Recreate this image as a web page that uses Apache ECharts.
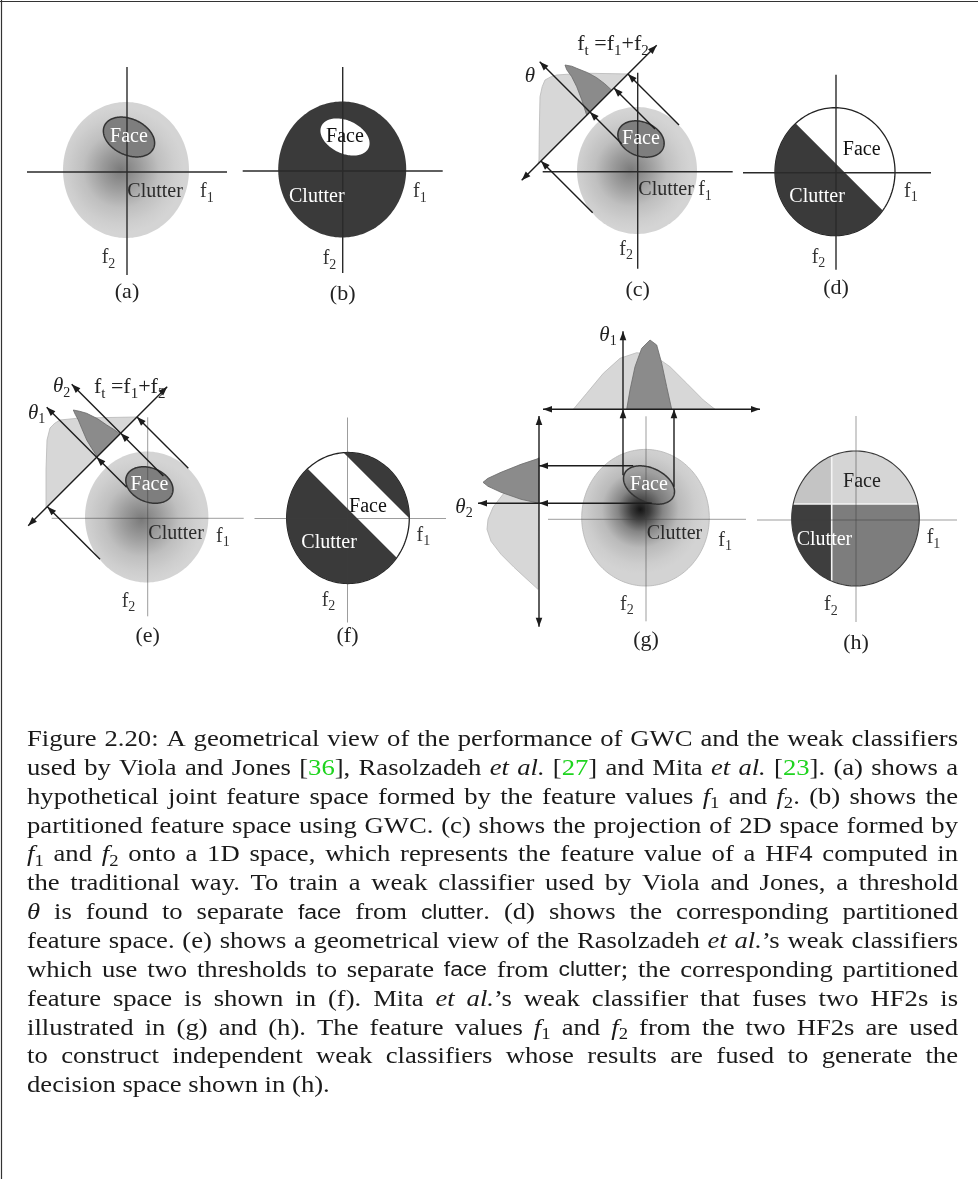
<!DOCTYPE html>
<html>
<head>
<meta charset="utf-8">
<title>Figure 2.20</title>
<script src="https://cdn.jsdelivr.net/npm/echarts@6.0.0/dist/echarts.min.js"></script>
<style>
html,body{margin:0;padding:0;background:#ffffff;}
#chart{width:978px;height:1179px;}
</style>
</head>
<body>
<div id="chart"></div>
<script>
// ======================= DATA (feature-space units; origin = axis crossing, y up) =======================
const panelNames = ['(a)', '(b)', '(c)', '(d)', '(e)', '(f)', '(g)', '(h)'];

// clutter distribution ellipses [cx, cy, rx, ry]
const clutterA = [-1, 2, 63, 68];
const clutterB = [-0.5, 1.5, 64, 68];
const clutterC = [-0.7, 1.2, 60, 63.5];
const clutterD = [-1, 1, 60, 64];
const clutterE = [-1, 1.3, 61.7, 65.5];
const clutterF = [0.5, 0.5, 61.3, 65.5];
const clutterG = [-0.5, 1.6, 63.8, 68.3];
const clutterH = [-0.5, 1.5, 63.8, 67.5];

// face distribution ellipses [cx, cy, rx, ry, tiltDeg]
const faceA = [2, 35, 27, 18, -25];
const faceB = [2.3, 34, 26, 16.5, -25];
const faceC = [3.3, 32.7, 24, 17, -22];
const faceE = [1.7, 33.3, 24.5, 17, -22];
const faceG = [3, 34.3, 27, 17, -25];

// decision thresholds
const thresholdD = 9;            // f1 + f2 threshold in (d)
const thresholdsF = [10, 62];     // two thresholds on f1 + f2 in (f)
const splitH = [-24.3, 16];       // f1 and f2 thresholds in (h)

// axis extents [[xmin, xmax], [ymin, ymax]]
const axesA = [[-100, 100], [-103, 105]];
const axesB = [[-100, 100], [-102, 104]];
const axesC = [[-95, 95], [-97, 99]];
const axesD = [[-93, 95], [-97, 98]];
const axesE = [[-96, 96], [-98, 101]];
const axesF = [[-93, 98.5], [-104, 101]];
const axesG = [[-98, 100], [-102, 103]];
const axesH = [[-99, 101], [-102, 104]];

// (c) projection onto f_t = f1 + f2
const ftAxisC = [[-116, -8.5], [19, 126.5]];
const thetaLineC = [[-16, 28], [-47.75, 59.75], [-98, 110]];
const projectionsC = [[[41.3, 46.7], [-9.75, 97.75]], [[17.3, 42.7], [-23.75, 83.75]], [[-45, -41], [-96.75, 10.75]]];
const clutterProjC = [[-99.7, 8], [-98.7, 11.7], [-98.4, 41.7], [-97.7, 75], [-95.5, 85], [-92.7, 91.7], [-87, 94.8], [-81, 96.7], [-65, 97.8], [-47.7, 98.4], [-9.75, 97.75]];
const faceProjC = [[-72.7, 106.7], [-66, 105.5], [-61, 103.4], [-50, 99], [-41, 94], [-33, 88], [-26, 81.5], [-51, 56.5], [-56, 72], [-61, 85], [-66, 95], [-71, 102]];

// (e) projection onto f_t with two thresholds
const ftAxisE = [[-119.5, -7.5], [19.5, 131.5]];
const theta1LineE = [[-21, 31], [-51, 61], [-101, 111]];
const theta2LineE = [[15.7, 42.3], [-27, 85], [-76, 134]];
const projectionsE = [[[40.6, 50], [-10.7, 101.3]], [[-47.7, -41], [-100.35, 11.65]]];
const clutterProjE = [[-101.7, 10.3], [-101.7, 48.3], [-100.7, 78.3], [-97.7, 90.3], [-93, 95], [-87.7, 98.3], [-67.7, 100.3], [-10.7, 101.3]];
const faceProjE = [[-74.4, 108.3], [-68, 107], [-61, 105], [-50, 99.5], [-41, 93.3], [-34, 89], [-27.7, 84.3], [-50.4, 61.6], [-56, 70], [-61, 78.3], [-66, 90], [-69.4, 98.3], [-72.5, 104]];

// (g) two independent projections on f1 and f2
const f1AxisG = [[-103, 110], [114, 110]];
const f2AxisG = [[-107, -107.4], [-107, 103.3]];
const theta1LineG = [[-23, 44], [-23, 110], [-23, 188]];
const theta2LineG = [[5.7, 16], [-107, 16], [-168, 16]];
const projectionsG = [[[28, 32.6], [28, 110]], [[-12.7, 53.6], [-107, 53.6]]];
const clutterOnF1G = [[-72.7, 110], [-59.3, 126], [-42.7, 146], [-26, 161], [-9.3, 166.6], [7.3, 164.3], [24, 152.6], [40.7, 136], [57.3, 119.3], [69, 110]];
const faceOnF1G = [[-19.3, 110], [-16, 129.3], [-11, 152.6], [-4.3, 171], [4, 179.3], [10.7, 174.3], [15.7, 156], [20.7, 132.6], [25.7, 110]];
const clutterOnF2G = [[-107, 62], [-117, 50], [-130, 38], [-143, 25], [-153, 12], [-158, 0], [-159, -10], [-155, -22], [-145, -35], [-132, -48], [-119, -60], [-108, -70]];
const faceOnF2G = [[-107, 61], [-125, 55], [-145, 47], [-158, 41], [-163, 37], [-158, 33], [-145, 27], [-125, 20], [-107, 16]];

// caption (markup: {i|italic} {g|green ref} {s|sans} {sub|subscript})
const captionLines = [
  'Figure 2.20: A geometrical view of the performance of GWC and the weak classifiers',
  'used by Viola and Jones [{g|36}], Rasolzadeh {i|et al.} [{g|27}] and Mita {i|et al.} [{g|23}]. (a) shows a',
  'hypothetical joint feature space formed by the feature values {i|f}{sub|1} and {i|f}{sub|2}. (b) shows the',
  'partitioned feature space using GWC. (c) shows the projection of 2D space formed by',
  '{i|f}{sub|1} and {i|f}{sub|2} onto a 1D space, which represents the feature value of a HF4 computed in',
  'the traditional way. To train a weak classifier used by Viola and Jones, a threshold',
  '{i|\u03b8} is found to separate {s|face} from {s|clutter}. (d) shows the corresponding partitioned',
  'feature space. (e) shows a geometrical view of the Rasolzadeh {i|et al.}\u2019s weak classifiers',
  'which use two thresholds to separate {s|face} from {s|clutter}; the corresponding partitioned',
  'feature space is shown in (f). Mita {i|et al.}\u2019s weak classifier that fuses two HF2s is',
  'illustrated in (g) and (h). The feature values {i|f}{sub|1} and {i|f}{sub|2} from the two HF2s are used',
  'to construct independent weak classifiers whose results are fused to generate the',
  'decision space shown in (h).'
];

// ======================= LAYOUT / ANNOTATIONS =======================
const panelOrigins = [[127, 172], [342.7, 171], [637.7, 171.7], [836, 172.7], [147.7, 518.3], [347.5, 518.5], [646, 519.3], [856, 520]];
// [text, x, y, color, align, size, italic]
const notesA = [['Face', 2, 35, '#ffffff', 'center'], ['Clutter', 0.3, -20, '#2a2a2a', 'left'], ['f_1', 73, -20, '#333', 'left'], ['f_2', -25.3, -86, '#333', 'left']];
const notesB = [['Face', 2.3, 34, '#111', 'center'], ['Clutter', -53.7, -26, '#ffffff', 'left'], ['f_1', 70.3, -21, '#333', 'left'], ['f_2', -20, -88, '#333', 'left']];
const notesC = [['Face', 3.3, 32.7, '#ffffff', 'center'], ['Clutter', 0.6, -18.5, '#2a2a2a', 'left'], ['f_1', 60.5, -18.5, '#333', 'left'], ['f_2', -18.4, -78, '#333', 'left'], ['f_t =f_1+f_2', -24.7, 127, '#222', 'center', 22], ['\u03b8', -107.7, 95, '#222', 'center', 21, true]];
const notesD = [['Face', 25.7, 22.7, '#111', 'center'], ['Clutter', -46.7, -24, '#ffffff', 'left'], ['f_1', 68, -19, '#333', 'left'], ['f_2', -24.3, -85, '#333', 'left']];
const notesE = [['Face', 1.7, 33.3, '#ffffff', 'center'], ['Clutter', 0.6, -15, '#2a2a2a', 'left'], ['f_1', 68.3, -18, '#333', 'left'], ['f_2', -26, -83, '#333', 'left'], ['f_t =f_1+f_2', -18, 131, '#222', 'center', 22], ['\u03b8_2', -86, 131.6, '#222', 'center', 21, true], ['\u03b8_1', -111, 105, '#222', 'center', 21, true]];
const notesF = [['Face', 20.5, 11.8, '#111', 'center'], ['Clutter', -46.2, -24, '#ffffff', 'left'], ['f_1', 69, -17, '#333', 'left'], ['f_2', -25.8, -82, '#333', 'left']];
const notesG = [['Face', 3, 34.3, '#ffffff', 'center'], ['Clutter', 0.7, -14.7, '#2a2a2a', 'left'], ['f_1', 72.3, -21, '#333', 'left'], ['f_2', -26, -85, '#333', 'left'], ['\u03b8_1', -38, 184, '#222', 'center', 21, true], ['\u03b8_2', -182, 12, '#222', 'center', 21, true]];
const notesH = [['Face', 6, 38, '#222', 'center'], ['Clutter', -59.3, -19.3, '#ffffff', 'left'], ['f_1', 70.7, -18, '#333', 'left'], ['f_2', -32, -85, '#333', 'left']];
const panelLabelY = [-120, -123, -118.3, -115.3, -117.7, -117.5, -121.3, -122.8];

// ======================= HELPERS =======================
const measureCtx = document.createElement('canvas').getContext('2d');
function textWidth(t, font) { measureCtx.font = font; return measureCtx.measureText(t).width; }

function ellipsePts(e, n) {
  n = n || 180;
  const [cx, cy, rx, ry] = e, f = (e[4] || 0) * Math.PI / 180, c = Math.cos(f), s = Math.sin(f);
  const pts = [];
  for (let i = 0; i < n; i++) {
    const t = 2 * Math.PI * i / n, x = rx * Math.cos(t), y = ry * Math.sin(t);
    pts.push([cx + x * c - y * s, cy + x * s + y * c]);
  }
  return pts;
}
// keep a*x + b*y <= c
function clipPoly(poly, a, b, c) {
  const out = [];
  for (let i = 0; i < poly.length; i++) {
    const P = poly[i], Q = poly[(i + 1) % poly.length];
    const fp = a * P[0] + b * P[1] - c, fq = a * Q[0] + b * Q[1] - c;
    if (fp <= 0) out.push(P);
    if ((fp < 0 && fq > 0) || (fp > 0 && fq < 0)) {
      const t = fp / (fp - fq);
      out.push([P[0] + t * (Q[0] - P[0]), P[1] + t * (Q[1] - P[1])]);
    }
  }
  return out;
}
function poly(C, pts, style) { return {type: 'polygon', shape: {points: pts.map(C)}, style: style}; }
function seg(C, p, q, style) { const a = C(p), b = C(q); return {type: 'line', shape: {x1: a[0], y1: a[1], x2: b[0], y2: b[1]}, style: style}; }
function head(a, b, color) {
  const dx = b[0] - a[0], dy = b[1] - a[1], L = Math.hypot(dx, dy) || 1, ux = dx / L, uy = dy / L, len = 9, w = 3.3;
  return {type: 'polygon', shape: {points: [[b[0], b[1]], [b[0] - ux * len - uy * w, b[1] - uy * len + ux * w], [b[0] - ux * len + uy * w, b[1] - uy * len - ux * w]]}, style: {fill: color}};
}
const ARROW_COLOR = '#1c1c1c';
function arrow(C, p, q, both) {
  const a = C(p), b = C(q);
  const els = [{type: 'line', shape: {x1: a[0], y1: a[1], x2: b[0], y2: b[1]}, style: {stroke: ARROW_COLOR, lineWidth: 1.4}}, head(a, b, ARROW_COLOR)];
  if (both) els.push(head(b, a, ARROW_COLOR));
  return els;
}
function chainArrow(C, pts) { let els = []; for (let i = 0; i < pts.length - 1; i++) els = els.concat(arrow(C, pts[i], pts[i + 1], false)); return els; }
const AX_DARK = {stroke: '#2a2a2a', lineWidth: 1.4};
const AX_LIGHT = {stroke: 'rgba(60,60,60,0.5)', lineWidth: 1};
function axesEls(C, ext, st) { return [seg(C, [ext[0][0], 0], [ext[0][1], 0], st), seg(C, [0, ext[1][0]], [0, ext[1][1]], st)]; }
function radial(x, y, stops) { return new echarts.graphic.RadialGradient(x, y, 0.5, stops.map(s => ({offset: s[0], color: s[1]}))); }

function parseRuns(str) {
  const runs = []; let buf = '';
  for (let i = 0; i < str.length; i++) {
    if (str[i] === '_' && i + 1 < str.length) { if (buf) runs.push({t: buf, sub: false}); buf = ''; runs.push({t: str[i + 1], sub: true}); i++; }
    else buf += str[i];
  }
  if (buf) runs.push({t: buf, sub: false});
  return runs;
}
const FIG_FONT = '"Liberation Serif", "Times New Roman", serif';
function labelEls(C, spec) {
  const [text, x, y, color, align, size, italic] = spec;
  const sz = size || 20, ssz = Math.round(sz * 0.68);
  const runs = parseRuns(text);
  runs.forEach(r => { r.font = (r.sub ? '' : (italic ? 'italic ' : '')) + (r.sub ? ssz : sz) + 'px ' + FIG_FONT; r.w = textWidth(r.t, r.font); });
  const total = runs.reduce((s, r) => s + r.w, 0);
  const p = C([x, y]);
  let px = align === 'left' ? p[0] : p[0] - total / 2;
  return runs.map(r => {
    const el = {type: 'text', x: px, y: p[1] + (r.sub ? sz * 0.3 : 0), style: {text: r.t, font: r.font, fill: color, textAlign: 'left', textVerticalAlign: 'middle'}};
    px += r.w; return el;
  });
}
function notes(C, list, idx) {
  let els = [];
  list.forEach(s => { els = els.concat(labelEls(C, s)); });
  els = els.concat(labelEls(C, [panelNames[idx], 0, panelLabelY[idx], '#222', 'center', 22]));
  return els;
}
const FACE_STYLE = {fill: '#7e7e7e', stroke: '#333333', lineWidth: 1.5};
const LIGHT_DIST = {fill: 'rgba(200,200,200,0.72)', stroke: '#b8b8b8', lineWidth: 0.8};
const DARK_DIST = {fill: '#8b8b8b', stroke: '#6a6a6a', lineWidth: 0.8};
const SOFT_STOPS = [[0, '#7a7a7a'], [0.3, '#9b9b9b'], [0.6, '#bfbfbf'], [0.85, '#cecece'], [1, '#d4d4d4']];

// ======================= PANEL DRAWERS =======================
function drawA(C) {
  return [
    poly(C, ellipsePts(clutterA), {fill: radial(0.46, 0.5, SOFT_STOPS)}),
    poly(C, ellipsePts(faceA), FACE_STYLE),
    ...axesEls(C, axesA, AX_DARK),
    ...notes(C, notesA, 0)
  ];
}
function drawB(C) {
  return [
    poly(C, ellipsePts(clutterB), {fill: '#3a3a3a'}),
    poly(C, ellipsePts(faceB), {fill: '#ffffff'}),
    ...axesEls(C, axesB, AX_DARK),
    ...notes(C, notesB, 1)
  ];
}
function drawC(C) {
  return [
    poly(C, ellipsePts(clutterC), {fill: radial(0.45, 0.5, SOFT_STOPS)}),
    poly(C, ellipsePts(faceC), FACE_STYLE),
    ...axesEls(C, axesC, AX_DARK),
    poly(C, clutterProjC, LIGHT_DIST),
    poly(C, faceProjC, DARK_DIST),
    ...arrow(C, ftAxisC[0], ftAxisC[1], true),
    ...chainArrow(C, thetaLineC),
    ...[].concat(...projectionsC.map(a => arrow(C, a[0], a[1], false))),
    ...notes(C, notesC, 2)
  ];
}
function drawD(C) {
  const E = ellipsePts(clutterD);
  return [
    poly(C, E, {fill: '#ffffff', stroke: '#222', lineWidth: 1.3}),
    poly(C, clipPoly(E, 1, 1, thresholdD), {fill: '#3a3a3a'}),
    ...axesEls(C, axesD, AX_DARK),
    ...notes(C, notesD, 3)
  ];
}
function drawE(C) {
  return [
    poly(C, ellipsePts(clutterE), {fill: radial(0.46, 0.52, SOFT_STOPS)}),
    poly(C, ellipsePts(faceE), FACE_STYLE),
    ...axesEls(C, axesE, AX_LIGHT),
    poly(C, clutterProjE, LIGHT_DIST),
    poly(C, faceProjE, DARK_DIST),
    ...arrow(C, ftAxisE[0], ftAxisE[1], true),
    ...chainArrow(C, theta1LineE),
    ...chainArrow(C, theta2LineE),
    ...[].concat(...projectionsE.map(a => arrow(C, a[0], a[1], false))),
    ...notes(C, notesE, 4)
  ];
}
function drawF(C) {
  const E = ellipsePts(clutterF);
  return [
    poly(C, E, {fill: '#ffffff', stroke: '#222', lineWidth: 1.3}),
    poly(C, clipPoly(E, 1, 1, thresholdsF[0]), {fill: '#3a3a3a'}),
    poly(C, clipPoly(E, -1, -1, -thresholdsF[1]), {fill: '#3a3a3a'}),
    ...axesEls(C, axesF, AX_LIGHT),
    ...notes(C, notesF, 5)
  ];
}
function drawG(C) {
  return [
    poly(C, ellipsePts(clutterG), {fill: radial(0.46, 0.44, [[0, '#141414'], [0.15, '#3c3c3c'], [0.35, '#858585'], [0.6, '#bababa'], [0.85, '#cdcdcd'], [1, '#d3d3d3']]), stroke: '#b4b4b4', lineWidth: 0.8}),
    poly(C, ellipsePts(faceG), {fill: 'rgba(100,100,100,0.3)', stroke: '#333', lineWidth: 1.5}),
    ...axesEls(C, axesG, AX_LIGHT),
    poly(C, clutterOnF1G, LIGHT_DIST),
    poly(C, faceOnF1G, DARK_DIST),
    poly(C, clutterOnF2G, LIGHT_DIST),
    poly(C, faceOnF2G, DARK_DIST),
    ...arrow(C, f1AxisG[0], f1AxisG[1], true),
    ...arrow(C, f2AxisG[0], f2AxisG[1], true),
    ...chainArrow(C, theta1LineG),
    ...chainArrow(C, theta2LineG),
    ...[].concat(...projectionsG.map(a => arrow(C, a[0], a[1], false))),
    ...notes(C, notesG, 6)
  ];
}
function drawH(C) {
  const E = ellipsePts(clutterH);
  const top = clipPoly(E, 0, -1, -splitH[1]);
  const bottom = clipPoly(E, 0, 1, splitH[1]);
  const [cx, cy, rx, ry] = clutterH;
  const hx = rx * Math.sqrt(Math.max(0, 1 - Math.pow((splitH[1] - cy) / ry, 2)));
  const vy = ry * Math.sqrt(Math.max(0, 1 - Math.pow((splitH[0] - cx) / rx, 2)));
  const divider = {stroke: '#f4f4f4', lineWidth: 1.6};
  return [
    poly(C, clipPoly(top, 1, 0, splitH[0]), {fill: '#c4c4c4'}),
    poly(C, clipPoly(top, -1, 0, -splitH[0]), {fill: '#d5d5d5'}),
    poly(C, clipPoly(bottom, 1, 0, splitH[0]), {fill: '#3e3e3e'}),
    poly(C, clipPoly(bottom, -1, 0, -splitH[0]), {fill: '#7d7d7d'}),
    seg(C, [cx - hx, splitH[1]], [cx + hx, splitH[1]], divider),
    seg(C, [splitH[0], cy - vy], [splitH[0], cy + vy], divider),
    poly(C, E, {fill: 'none', stroke: '#3a3a3a', lineWidth: 1.1}),
    ...axesEls(C, axesH, AX_LIGHT),
    ...notes(C, notesH, 7)
  ];
}
const drawers = [drawA, drawB, drawC, drawD, drawE, drawF, drawG, drawH];

// ======================= CAPTION =======================
function parseCaptionLine(line) {
  const runs = []; const re = /\{(\w+)\|([^}]*)\}/g; let last = 0, m;
  while ((m = re.exec(line))) {
    if (m.index > last) runs.push({tag: 'n', t: line.slice(last, m.index)});
    runs.push({tag: m[1], t: m[2]}); last = re.lastIndex;
  }
  if (last < line.length) runs.push({tag: 'n', t: line.slice(last)});
  const words = []; let cur = [];
  runs.forEach(r => {
    r.t.split(' ').forEach((p, k) => {
      if (k > 0) { if (cur.length) words.push(cur); cur = []; }
      if (p) cur.push({tag: r.tag, t: p});
    });
  });
  if (cur.length) words.push(cur);
  return words;
}
const CAP_SERIF = '"Liberation Serif", "Times New Roman", serif';
const CAP_SANS = '"Liberation Sans", "DejaVu Sans", sans-serif';
const CAP_SIZE = 23;
function capFont(tag, S) {
  if (tag === 'i') return 'italic ' + S.toFixed(2) + 'px ' + CAP_SERIF;
  if (tag === 's') return (S * 0.86).toFixed(2) + 'px ' + CAP_SANS;
  if (tag === 'sub') return (S * 0.7).toFixed(2) + 'px ' + CAP_SERIF;
  return S.toFixed(2) + 'px ' + CAP_SERIF;
}
function buildCaption() {
  const left = 27, right = 958, width = right - left, y0 = 740, lh = 28.85, S = CAP_SIZE;
  const lines = captionLines.map(parseCaptionLine);
  const spaceW = textWidth(' ', capFont('n', S));
  const natural = ws => ws.reduce((s, w) => s + w.reduce((a, r) => a + textWidth(r.t, capFont(r.tag, S)), 0), 0) + (ws.length - 1) * spaceW;
  const maxNat = Math.max(...lines.slice(0, lines.length - 1).map(natural));
  const kx = width * 0.985 / maxNat;   // horizontal glyph stretch so the text has the width of the original typeface
  const els = [];
  lines.forEach((ws, li) => {
    const y = y0 + li * lh;
    const wordW = ws.map(w => w.reduce((a, r) => a + textWidth(r.t, capFont(r.tag, S)), 0) * kx);
    const sum = wordW.reduce((a, b) => a + b, 0);
    const justify = li < lines.length - 1;
    const gap = justify ? (width - sum) / (ws.length - 1) : spaceW * kx;
    let x = left;
    ws.forEach((w, wi) => {
      let rx = x;
      w.forEach(r => {
        const font = capFont(r.tag, S);
        els.push({type: 'text', x: rx, y: y + (r.tag === 'sub' ? S * 0.28 : 0), scaleX: kx, silent: true,
          style: {text: r.t, font: font, fill: r.tag === 'g' ? '#1fd41f' : '#1a1a1a', textAlign: 'left', textVerticalAlign: 'middle'}});
        rx += textWidth(r.t, font) * kx;
      });
      x += wordW[wi] + gap;
    });
  });
  return els;
}

// ======================= CHART =======================
const chart = echarts.init(document.getElementById('chart'), null, {renderer: 'canvas', width: 978, height: 1179});
const border = [
  {type: 'line', shape: {x1: 0, y1: 1.5, x2: 978, y2: 1.5}, style: {stroke: '#333', lineWidth: 1.2}, silent: true},
  {type: 'line', shape: {x1: 1.5, y1: 0, x2: 1.5, y2: 1179}, style: {stroke: '#333', lineWidth: 1.2}, silent: true}
];
const option = {
  animation: false,
  backgroundColor: '#ffffff',
  grid: panelOrigins.map(o => ({left: o[0] - 100, top: o[1] - 100, width: 200, height: 200, show: false})),
  xAxis: panelOrigins.map((o, i) => ({type: 'value', gridIndex: i, min: -100, max: 100, show: false})),
  yAxis: panelOrigins.map((o, i) => ({type: 'value', gridIndex: i, min: -100, max: 100, show: false})),
  series: drawers.map((draw, i) => ({
    type: 'custom', xAxisIndex: i, yAxisIndex: i, data: [[0, 0]], silent: true, clip: false,
    renderItem: (params, api) => ({type: 'group', children: draw(pt => api.coord(pt))})
  })),
  graphic: {elements: border.concat(buildCaption())}
};
chart.setOption(option);
</script>
</body>
</html>
